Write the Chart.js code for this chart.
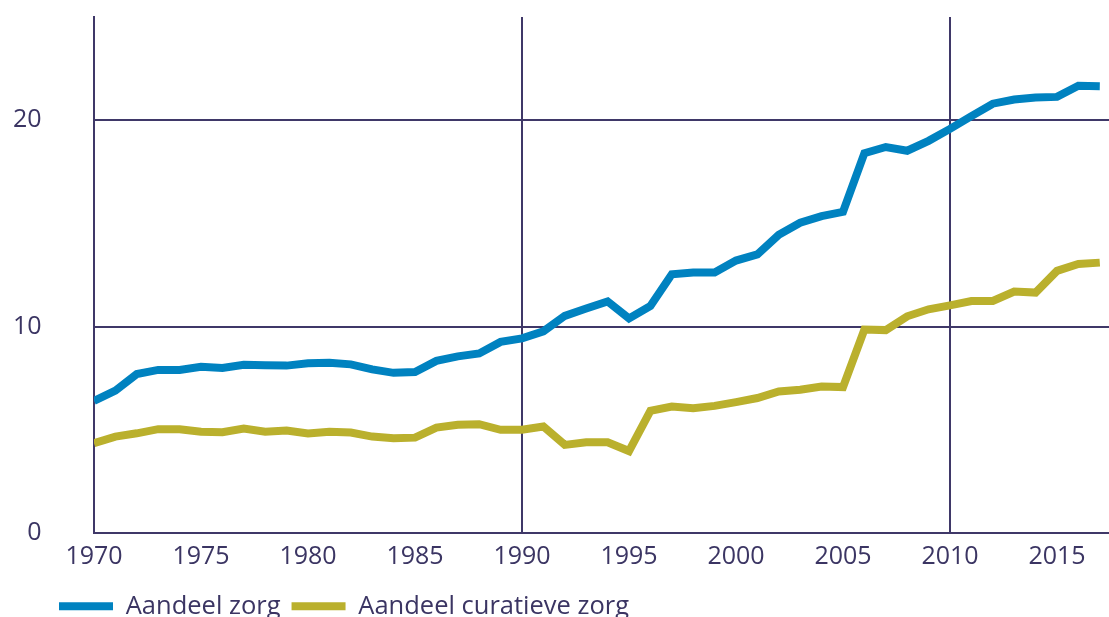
<!DOCTYPE html>
<html>
<head>
<meta charset="utf-8">
<script src="https://cdn.jsdelivr.net/npm/chart.js@4/dist/chart.umd.min.js"></script>
<style>
  html, body { margin: 0; padding: 0; background: #ffffff; overflow: hidden; }
  #wrap { width: 1109px; height: 629px; }
</style>
</head>
<body>
<div id="wrap"><canvas id="chart"></canvas></div>
<script>
const years = [1970, 1971, 1972, 1973, 1974, 1975, 1976, 1977, 1978, 1979,
               1980, 1981, 1982, 1983, 1984, 1985, 1986, 1987, 1988, 1989,
               1990, 1991, 1992, 1993, 1994, 1995, 1996, 1997, 1998, 1999,
               2000, 2001, 2002, 2003, 2004, 2005, 2006, 2007, 2008, 2009,
               2010, 2011, 2012, 2013, 2014, 2015, 2016, 2017];

const zorg = [6.4, 6.9, 7.7, 7.9, 7.9, 8.05, 8.0, 8.15, 8.13, 8.11,
              8.22, 8.25, 8.17, 7.93, 7.76, 7.8, 8.34, 8.56, 8.7, 9.26,
              9.43, 9.77, 10.52, 10.88, 11.22, 10.4, 11.0, 12.53, 12.62, 12.62,
              13.2, 13.5, 14.45, 15.03, 15.35, 15.56, 18.4, 18.7, 18.52, 19.0,
              19.58, 20.2, 20.8, 21.0, 21.1, 21.13, 21.67, 21.65];

const curatief = [4.35, 4.67, 4.83, 5.03, 5.03, 4.91, 4.88, 5.06, 4.91, 4.96,
                  4.82, 4.91, 4.87, 4.67, 4.59, 4.62, 5.11, 5.24, 5.27, 5.0,
                  5.0, 5.16, 4.27, 4.4, 4.4, 3.97, 5.92, 6.13, 6.05, 6.16,
                  6.34, 6.54, 6.86, 6.94, 7.1, 7.07, 9.86, 9.83, 10.5, 10.84,
                  11.03, 11.24, 11.24, 11.7, 11.65, 12.7, 13.03, 13.1];

const seriesNames = ['Aandeel zorg', 'Aandeel curatieve zorg'];
const xTicks = [1970, 1975, 1980, 1985, 1990, 1995, 2000, 2005, 2010, 2015];
const yTicks = [0, 10, 20];

const ink = '#3b3563';
const gridInk = '#3f3868';
const fontFamily = '"Open Sans", "Noto Sans", sans-serif';

function toPoints(values) {
    return years.map((yr, i) => ({x: yr, y: values[i]}));
}

const ctx = document.getElementById('chart').getContext('2d');

const chart = new Chart(ctx, {
    type: 'line',
    data: {
        datasets: [{
            label: seriesNames[0],
            data: toPoints(zorg),
            borderColor: '#0082c0',
            backgroundColor: '#0082c0',
            borderWidth: 8,
            pointRadius: 0,
            fill: false,
            tension: 0
        }, {
            label: seriesNames[1],
            data: toPoints(curatief),
            borderColor: '#bab02d',
            backgroundColor: '#bab02d',
            borderWidth: 8,
            pointRadius: 0,
            fill: false,
            tension: 0
        }]
    },
    options: {
        responsive: true,
        maintainAspectRatio: false,
        animation: false,
        layout: {
            padding: {left: 48, right: 0, top: 17, bottom: 0}
        },
        scales: {
            x: {
                type: 'linear',
                min: 1970,
                max: 2017.43,
                afterBuildTicks: function(scale) {
                    scale.ticks = xTicks.map(v => ({value: v}));
                },
                afterFit: function(scale) {
                    scale.height = 49.5;
                },
                grid: {
                    drawTicks: false,
                    lineWidth: 2,
                    // only every 20 years, like the reference (1990, 2010)
                    color: function(c) {
                        return (c.tick && (c.tick.value - 1970) % 20 === 0) ? gridInk : 'rgba(0,0,0,0)';
                    }
                },
                border: {color: gridInk, width: 2},
                ticks: {
                    color: ink,
                    padding: 9,
                    maxRotation: 0,
                    autoSkip: false,
                    font: {family: fontFamily, size: 25},
                    callback: v => String(v)
                }
            },
            y: {
                min: 0,
                max: 25,
                afterBuildTicks: function(scale) {
                    scale.ticks = yTicks.map(v => ({value: v}));
                },
                afterFit: function(scale) {
                    scale.width = 46;
                },
                grid: {
                    drawTicks: false,
                    lineWidth: 2,
                    color: gridInk
                },
                border: {color: gridInk, width: 2},
                ticks: {
                    color: ink,
                    // mirrored labels are not clipped to the axis box,
                    // so they can sit left of it, right aligned at x ~ 42
                    mirror: true,
                    crossAlign: 'far',
                    padding: -81,
                    font: {family: fontFamily, size: 25}
                }
            }
        },
        plugins: {
            legend: {
                position: 'bottom',
                align: 'start',
                labels: {
                    boxWidth: 54,
                    boxHeight: 8,
                    padding: 11,
                    color: ink,
                    font: {family: fontFamily, size: 25.5},
                    // plain filled swatches, no thick border round them
                    generateLabels: function(c) {
                        const items = Chart.defaults.plugins.legend.labels.generateLabels(c);
                        return items.map(item => Object.assign(item, {lineWidth: 0}));
                    }
                }
            },
            tooltip: {enabled: false}
        }
    }
});
</script>
</body>
</html>
